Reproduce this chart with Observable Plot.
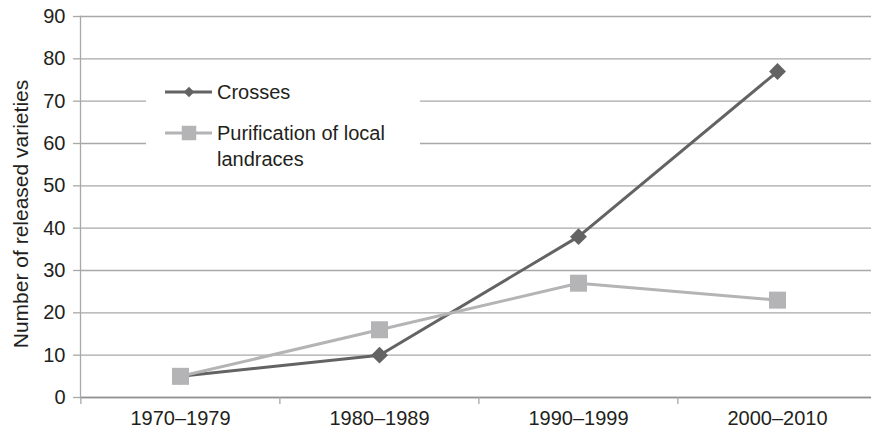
<!DOCTYPE html>
<html><head><meta charset="utf-8">
<script src="https://cdn.jsdelivr.net/npm/d3@7"></script>
<script src="https://cdn.jsdelivr.net/npm/@observablehq/plot@0.6"></script>
<style>
html,body{margin:0;padding:0;background:#fff;}
#wrap{position:relative;width:871px;height:432px;overflow:hidden;font-family:"Liberation Sans",Arial,Helvetica,sans-serif;}
#legend{position:absolute;left:146px;top:62px;width:274px;height:118px;background:#fff;}
</style></head><body><div id="wrap"><div id="legend"></div></div>
<script>
const periods = ["1970–1979", "1980–1989", "1990–1999", "2000–2010"];
const crosses = [5, 10, 38, 77];
const purification = [5, 16, 27, 23];
const seriesNames = ["Crosses", "Purification of local landraces"];
const seriesColors = ["#636363", "#b4b4b6"];
const yTicks = [0, 10, 20, 30, 40, 50, 60, 70, 80, 90];
const yLabel = "Number of released varieties";

const rows = [];
periods.forEach((p, i) => rows.push({period: p, series: seriesNames[0], value: crosses[i]}));
periods.forEach((p, i) => rows.push({period: p, series: seriesNames[1], value: purification[i]}));

const W = 871, H = 432, mL = 80, mR = -6, mT = 16, mB = 35;
const step = (W - mR - mL) / periods.length;
const gridColor = "#a8a8a8";
const font = "'Liberation Sans', Arial, Helvetica, sans-serif";

const chart = Plot.plot({
  width: W, height: H,
  marginLeft: mL, marginRight: mR, marginTop: mT, marginBottom: mB,
  style: {fontFamily: font, fontSize: "20px", color: "#231f20", background: "transparent", overflow: "visible"},
  x: {type: "point", domain: periods, padding: 0.5},
  y: {domain: [0, 90]},
  color: {domain: seriesNames, range: seriesColors},
  marks: [
    Plot.gridY(yTicks, {stroke: gridColor, strokeOpacity: 1, strokeWidth: 1.3}),
    Plot.ruleY([0], {stroke: "#909090", strokeWidth: 1.5}),
    Plot.frame({anchor: "left", stroke: gridColor, strokeWidth: 1.3}),
    Plot.axisY(yTicks, {tickSize: 7, tickPadding: 8, stroke: gridColor, strokeWidth: 1.3, fontSize: 20, label: null}),
    Plot.text([yLabel], {frameAnchor: "left", rotate: -90, textAnchor: "middle", lineAnchor: "top",
      dx: -67, dy: 7, fontSize: 21, fill: "#231f20"}),
    Plot.axisX(periods, {tickSize: 7, tickFormat: () => "", dx: -step / 2, stroke: gridColor, strokeWidth: 1.3, label: null}),
    Plot.axisX(periods, {tickSize: 0, tickPadding: 13, fontSize: 20, label: null}),
    Plot.line(rows.filter(d => d.series === seriesNames[0]), {x: "period", y: "value", stroke: "series", strokeWidth: 3}),
    Plot.dot(rows.filter(d => d.series === seriesNames[0]), {x: "period", y: "value", fill: "series", symbol: "diamond2", r: 7.6}),
    Plot.line(rows.filter(d => d.series === seriesNames[1]), {x: "period", y: "value", stroke: "series", strokeWidth: 3}),
    Plot.dot(rows.filter(d => d.series === seriesNames[1]), {x: "period", y: "value", fill: "series", symbol: "square", r: 9.6})
  ]
});
document.getElementById("wrap").prepend(chart);

// Legend (inside plot area, white box)
const lg = d3.select("#legend").append("svg").attr("width", 274).attr("height", 118)
  .style("font-family", font).style("font-size", "20px");
const items = [
  {color: seriesColors[0], sym: d3.symbolDiamond2, size: 70, lines: ["Crosses"], y: 30},
  {color: seriesColors[1], sym: d3.symbolSquare, size: 210, lines: ["Purification of local", "landraces"], y: 71}
];
items.forEach(it => {
  lg.append("line").attr("x1", 19).attr("x2", 66).attr("y1", it.y).attr("y2", it.y)
    .attr("stroke", it.color).attr("stroke-width", 3);
  lg.append("path").attr("d", d3.symbol(it.sym, it.size)()).attr("transform", `translate(43,${it.y})`).attr("fill", it.color);
  it.lines.forEach((t, j) => lg.append("text").attr("x", 71).attr("y", it.y + j * 26).attr("dy", "0.35em")
    .attr("fill", "#231f20").text(t));
});
</script>
</body></html>
